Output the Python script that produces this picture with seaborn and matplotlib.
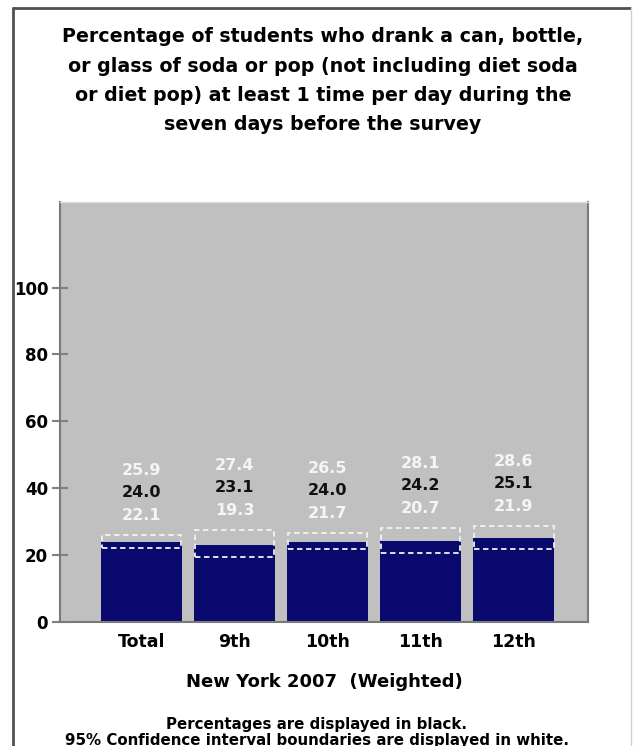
import numpy as np
import pandas as pd
import matplotlib
matplotlib.use("Agg")
import matplotlib.pyplot as plt
from matplotlib.patches import Rectangle
from matplotlib.lines import Line2D
import seaborn as sns

grades = ["Total", "9th", "10th", "11th", "12th"]
percent = [24.0, 23.1, 24.0, 24.2, 25.1]
ci_low = [22.1, 19.3, 21.7, 20.7, 21.9]
ci_high = [25.9, 27.4, 26.5, 28.1, 28.6]
y_ticks = [0, 20, 40, 60, 80, 100]

df = pd.DataFrame({"grade": grades, "pct": percent, "lo": ci_low, "hi": ci_high})

sns.set_style("white")
plt.rcParams["font.family"] = ["DejaVu Sans"]
plt.rcParams["font.weight"] = "bold"
plt.rcParams["text.color"] = "black"
plt.rcParams["axes.labelcolor"] = "black"
plt.rcParams["xtick.color"] = "black"
plt.rcParams["ytick.color"] = "black"

fig = plt.figure(figsize=(6.34, 7.46), dpi=100)
ax = fig.add_axes([60 / 634, 1 - 622 / 746, 528 / 634, 420 / 746])
ax.set_facecolor("#c0c0c0")

sns.barplot(data=df, x="grade", y="pct", order=grades, color="#0a0a6e",
            saturation=1, width=0.87, linewidth=0, ax=ax, zorder=2)

ax.set_xlim(-0.875, 4.795)
ax.set_ylim(0, 125.6)
ax.set_yticks(y_ticks)
ax.set_yticklabels([str(t) for t in y_ticks], fontsize=12, fontweight="bold")
ax.set_xticks(range(len(grades)))
ax.set_xticklabels(grades, fontsize=12.5, fontweight="bold")
ax.tick_params(axis="y", left=True, direction="inout", length=11, width=1.5,
               color="#808080", labelcolor="black", pad=3)
ax.tick_params(axis="x", length=0, pad=8, labelcolor="black")
ax.set_xlabel("New York 2007  (Weighted)", fontsize=13, fontweight="bold",
              labelpad=16, color="black")
ax.set_ylabel("")

for side in ["left", "right", "bottom"]:
    ax.spines[side].set_color("#7a7a7a")
    ax.spines[side].set_linewidth(1.5)
ax.spines["top"].set_color("#dcdcdc")
ax.spines["top"].set_linewidth(1)

for bar, lo, hi, p in zip(ax.patches, ci_low, ci_high, percent):
    x0 = bar.get_x()
    w = bar.get_width()
    ax.add_patch(Rectangle((x0 + 0.01, lo), w - 0.02, hi - lo, fill=False,
                           ec="#f2f2f2", lw=1.3, ls=(0, (3, 2)), zorder=3))
    cx = x0 + w / 2
    ax.text(cx, hi + 19.4, f"{hi:.1f}", ha="center", va="center",
            color="#f5f5f5", fontsize=11.5, fontweight="bold")
    ax.text(cx, hi + 12.8, f"{p:.1f}", ha="center", va="center",
            color="#111111", fontsize=11.5, fontweight="bold")
    ax.text(cx, hi + 5.8, f"{lo:.1f}", ha="center", va="center",
            color="#f5f5f5", fontsize=11.5, fontweight="bold")

title = ("Percentage of students who drank a can, bottle,\n"
         "or glass of soda or pop (not including diet soda\n"
         "or diet pop) at least 1 time per day during the\n"
         "seven days before the survey")
fig.text(323 / 634, 1 - 27 / 746, title, ha="center", va="top", fontsize=13.7,
         fontweight="bold", linespacing=1.7, color="black")

fig.text(0.5, 1 - 725 / 746, "Percentages are displayed in black.",
         ha="center", va="center", fontsize=10.8, fontweight="bold", color="black")
fig.text(0.5, 1 - 740 / 746, "95% Confidence interval boundaries are displayed in white.",
         ha="center", va="center", fontsize=10.8, fontweight="bold", color="black")

# frame around the picture
fig.add_artist(Line2D([13 / 634, 13 / 634], [0, 1 - 8 / 746], transform=fig.transFigure,
                      color="#505050", lw=2))
fig.add_artist(Line2D([13 / 634, 630 / 634], [1 - 8 / 746, 1 - 8 / 746],
                      transform=fig.transFigure, color="#505050", lw=2))
fig.add_artist(Line2D([631 / 634, 631 / 634], [0, 1 - 8 / 746], transform=fig.transFigure,
                      color="#d0d0d0", lw=1))

fig.savefig("out.png", dpi=100)
